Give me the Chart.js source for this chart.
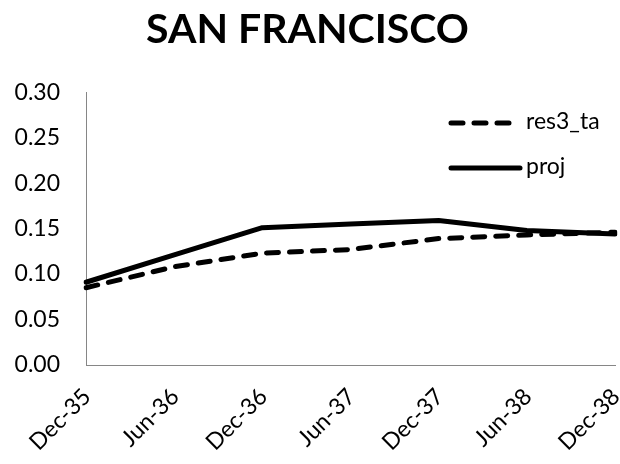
<!DOCTYPE html>
<html lang="en">
<head>
    <meta charset="UTF-8">
    <title>San Francisco</title>
    <script src="https://cdn.jsdelivr.net/npm/chart.js"></script>
    <style>
        html, body {
            margin: 0;
            padding: 0;
            background: #FFF;
        }
        .wrap {
            width: 620px;
            height: 464px;
        }
    </style>
</head>
<body>
    <div class="wrap">
        <canvas id="sfChart" width="620" height="464"></canvas>
    </div>

    <script>
        // data
        const months = ['Dec-35', 'Jun-36', 'Dec-36', 'Jun-37', 'Dec-37', 'Jun-38', 'Dec-38'];
        const res3Ta = [0.085, 0.108, 0.123, 0.127, 0.139, 0.143, 0.146];
        const proj = [0.091, 0.121, 0.151, 0.155, 0.159, 0.148, 0.144];
        const yTicks = [0, 0.05, 0.10, 0.15, 0.20, 0.25, 0.30];

        const FONT = 'Lato, "Open Sans", sans-serif';

        // legend sits inside the plot, top right, like the original
        const insideLegend = {
            id: 'insideLegend',
            afterDraw(chart) {
                const ctx = chart.ctx;
                const rows = [123, 168];
                const ends = [512, 520];
                ctx.save();
                chart.data.datasets.forEach((ds, i) => {
                    const y = rows[i];
                    ctx.beginPath();
                    ctx.lineWidth = ds.borderWidth;
                    ctx.lineCap = 'round';
                    ctx.strokeStyle = ds.borderColor;
                    ctx.setLineDash(ds.borderDash || []);
                    ctx.moveTo(451, y);
                    ctx.lineTo(ends[i], y);
                    ctx.stroke();
                    ctx.setLineDash([]);
                    ctx.fillStyle = '#000';
                    ctx.font = '23px ' + FONT;
                    ctx.textBaseline = 'middle';
                    ctx.fillText(ds.label, 526, y - 1);
                });
                ctx.restore();
            }
        };

        const ctx = document.getElementById('sfChart').getContext('2d');
        new Chart(ctx, {
            type: 'line',
            data: {
                labels: months,
                datasets: [{
                    label: 'res3_ta',
                    data: res3Ta,
                    borderColor: '#000',
                    borderWidth: 5,
                    borderDash: [12, 11],
                    borderCapStyle: 'round',
                    borderJoinStyle: 'round',
                    pointRadius: 0,
                    tension: 0,
                    fill: false
                }, {
                    label: 'proj',
                    data: proj,
                    borderColor: '#000',
                    borderWidth: 5,
                    borderCapStyle: 'round',
                    borderJoinStyle: 'round',
                    pointRadius: 0,
                    tension: 0,
                    fill: false
                }]
            },
            options: {
                responsive: false,
                animation: false,
                layout: {
                    padding: { left: 0, right: 5, top: 5, bottom: 0 }
                },
                plugins: {
                    legend: { display: false },
                    tooltip: { enabled: false },
                    title: {
                        display: true,
                        text: 'SAN FRANCISCO',
                        color: '#000',
                        font: { family: FONT, size: 41, weight: 'bold', lineHeight: 1.2 },
                        padding: { top: 0, bottom: 38 }
                    }
                },
                scales: {
                    x: {
                        offset: false,
                        grid: { display: false, drawTicks: false },
                        border: { display: true, color: '#868686', width: 1 },
                        ticks: {
                            color: '#000',
                            font: { family: FONT, size: 23 },
                            minRotation: 45,
                            maxRotation: 45,
                            padding: 18,
                            labelOffset: 1,
                            autoSkip: false
                        },
                        afterFit(scale) {
                            scale.height = 99;
                            scale.paddingLeft = 0;
                            scale.paddingRight = 0;
                        }
                    },
                    y: {
                        min: 0,
                        max: 0.30,
                        afterBuildTicks(scale) {
                            scale.ticks = yTicks.map(v => ({ value: v }));
                        },
                        grid: { display: false, drawTicks: false },
                        border: { display: true, color: '#868686', width: 1 },
                        ticks: {
                            color: '#000',
                            font: { family: FONT, size: 23 },
                            padding: 26,
                            callback: v => v.toFixed(2)
                        },
                        afterFit(scale) {
                            scale.width = 86;
                            scale.paddingTop = 0;
                            scale.paddingBottom = 0;
                        }
                    }
                }
            },
            plugins: [insideLegend]
        });
    </script>
</body>
</html>
